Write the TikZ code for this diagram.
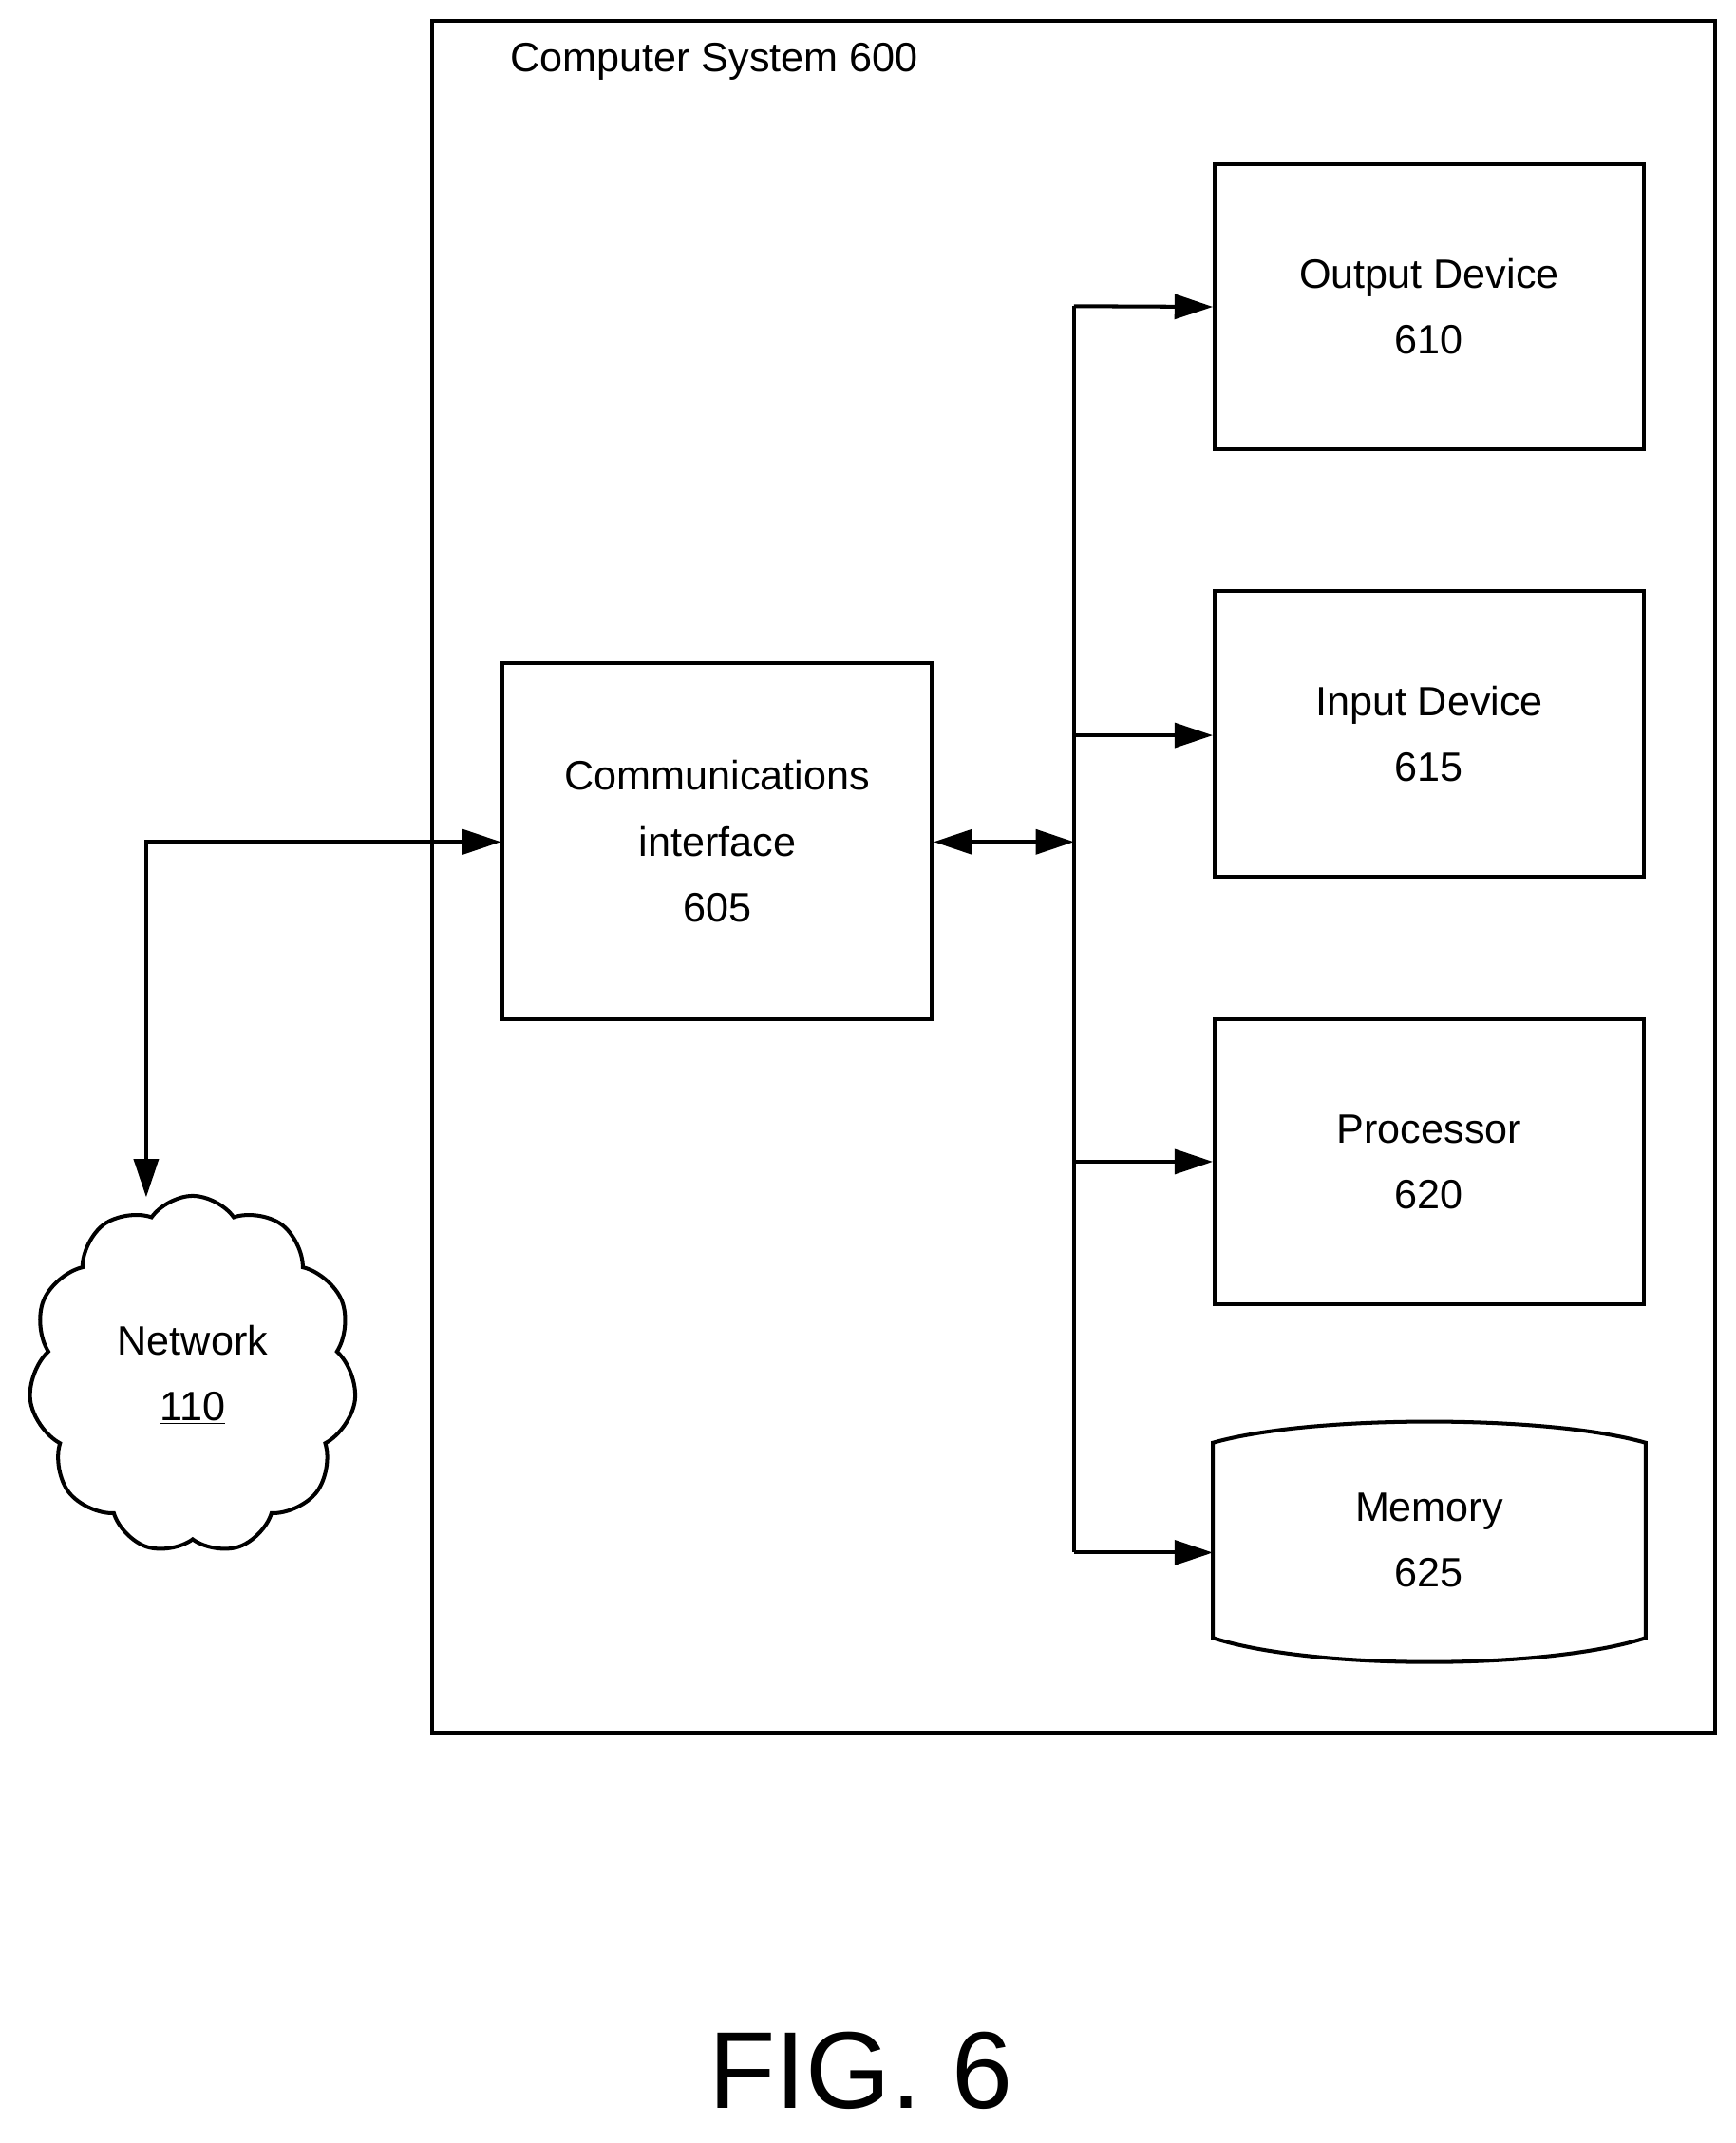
\documentclass[tikz,border=0pt]{standalone}
\usepackage{fontspec}
\setmainfont{Liberation Sans}
\usetikzlibrary{shapes.symbols,arrows.meta}
\begin{document}
\begin{tikzpicture}[x=1pt,y=1pt,yscale=-1,
  box/.style={draw,line width=2.8pt,minimum width=314pt,minimum height=209pt,align=center,font=\fontsize{30}{48}\selectfont},
  bus/.style={line width=2.8pt,-{Triangle[length=28pt,width=18pt]}},
  both/.style={line width=2.8pt,{Triangle[length=28pt,width=18pt]}-{Triangle[length=28pt,width=18pt]}}]
  \useasboundingbox (0,0) rectangle (1270,1568);
  % frame
  \draw[line width=2.8pt] (316,15) rectangle (1255,1268);
  \node[anchor=west,font=\fontsize{30}{36}\selectfont] (title) at (370,45) {Computer System 600};
  % blocks
  \node[box,minimum height=261pt] (comm) at (525,615.5) {Communications\\interface\\605};
  \node[box] (out) at (1046,224.5) {Output Device\\610};
  \node[box] (in) at (1046,537) {Input Device\\615};
  \node[box] (proc) at (1046,850) {Processor\\620};
  \node[box,draw=none,minimum height=140pt] (mem) at (1046,1127) {Memory\\625};
  \draw[line width=2.8pt] (mem.north west) .. controls (960,1035) and (1132,1035) .. (mem.north east)
    -- (mem.south east) .. controls (1132,1222) and (960,1222) .. (mem.south west) -- cycle;
  \node[cloud,draw,line width=2.8pt,cloud puffs=11,cloud puff arc=110,aspect=0.9,minimum width=240pt,minimum height=262pt,align=center,font=\fontsize{30}{48}\selectfont] (net) at (141,1006) {Network\\\underline{110}};
  % connectors
  \coordinate (tap) at (786,616);
  \coordinate (nettop) at (107,876);
  \draw[both] (tap -| comm.east) -- (tap);
  \draw[line width=2.8pt] (786,224) -- (786,1136);
  \draw[bus] (786,224) -- (out.west);
  \draw[bus] (786,538) -- (786,538 -| in.west);
  \draw[bus] (786,850) -- (proc.west);
  \draw[bus] (786,1136) -- (786,1136 -| mem.west);
  \draw[both] (nettop) -- (107,616) -- (tap -| comm.west);
  \node[font=\fontsize{80}{90}\selectfont] (fig) at (630,1515) {FIG. 6};
\end{tikzpicture}
\end{document}
